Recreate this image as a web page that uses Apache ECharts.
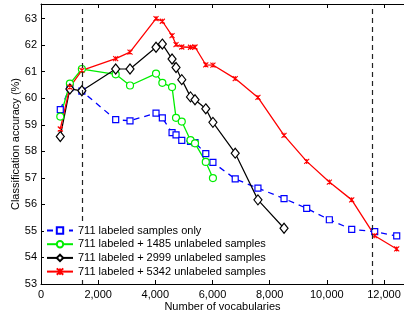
<!DOCTYPE html>
<html><head><meta charset="utf-8">
<script src="https://cdn.jsdelivr.net/npm/echarts@6/dist/echarts.min.js"></script>
<style>html,body{margin:0;padding:0;background:#fff}#c{width:404px;height:318px}</style>
</head><body><div id="c"></div>
<script>
var vocab = [675, 1010, 1430, 2613, 3114, 4024, 4245, 4585, 4724, 4925, 5230, 5388, 5765, 6015, 6795, 7590, 8503, 9296, 10088, 10871, 11675, 12445];
var labeledOnly = [59.57, 60.40, 60.27, 59.19, 59.15, 59.44, 59.26, 58.70, 58.62, 58.41, 58.37, 58.33, 57.91, 57.58, 56.96, 56.61, 56.22, 55.85, 55.42, 55.06, 54.97, 54.81];
var plus1485 = [59.31, 60.55, 61.10, 60.90, 60.48, 60.93, 60.58, 60.42, 59.26, 59.12, 58.42, 58.30, 57.60, 56.99];
var plus2999 = [58.56, 60.35, 60.28, 61.10, 61.10, 61.92, 62.04, 61.48, 61.16, 60.70, 60.05, 59.94, 59.60, 59.09, 57.93, 56.17, 55.10];
var plus5342 = [58.84, 60.42, 61.05, 61.49, 61.74, 63.00, 62.90, 62.36, 62.02, 61.93, 61.92, 61.93, 61.26, 61.25, 60.74, 60.03, 58.60, 57.62, 56.84, 56.17, 54.82, 54.32];
var seriesNames = ['711 labeled samples only', '711 labeled + 1485 unlabeled samples', '711 labeled + 2999 unlabeled samples', '711 labeled + 5342 unlabeled samples'];
var xTickValues = [0, 2000, 4000, 6000, 8000, 10000, 12000];
var refLines = [1435, 11585];

function pairs(ys){ return ys.map(function(y,i){ return [vocab[i], y]; }); }
var font = '"Liberation Sans", Arial, sans-serif';
var chart = echarts.init(document.getElementById('c'));
var star = 'path://M0,0L10,10M10,0L0,10M5,0L5,10';
chart.setOption({
  animation: false,
  backgroundColor: '#fff',
  grid: {left: 41, right: 0, top: 4, bottom: 34, containLabel: false, outerBoundsMode: 'none'},
  xAxis: [{
    type: 'value', min: 0, max: 12700, interval: 2000,
    name: 'Number of vocabularies', nameLocation: 'middle', nameGap: 17, nameMoveOverlap: false,
    nameTextStyle: {fontSize: 11, color: '#000', fontFamily: font},
    axisLine: {show: true, lineStyle: {color: '#000', width: 1}},
    axisTick: {show: true, inside: true, length: 4, lineStyle: {color: '#000'}},
    axisLabel: {fontSize: 11, color: '#000', fontFamily: font, margin: 5, showMaxLabel: false,
      formatter: function(v){ return xTickValues.indexOf(v) >= 0 ? v.toLocaleString('en-US') : ''; }},
    splitLine: {show: false}
  }, {
    type: 'value', min: 0, max: 12700, interval: 2000, position: 'top',
    axisLine: {show: true, lineStyle: {color: '#000', width: 1}},
    axisTick: {show: true, inside: true, length: 4, lineStyle: {color: '#000'}},
    axisLabel: {show: false}, splitLine: {show: false}
  }],
  yAxis: [{
    type: 'value', min: 53, max: 63.55, interval: 1,
    name: 'Classification accuracy (%)', nameLocation: 'middle', nameGap: 20, nameMoveOverlap: false,
    nameTextStyle: {fontSize: 11, color: '#000', fontFamily: font},
    axisLine: {show: true, lineStyle: {color: '#000', width: 1}},
    axisTick: {show: true, inside: true, length: 4, lineStyle: {color: '#000'}},
    axisLabel: {fontSize: 11, color: '#000', fontFamily: font, margin: 4, showMaxLabel: false},
    splitLine: {show: false}
  }],
  legend: {
    orient: 'vertical', left: 44, top: 222, itemWidth: 26, itemHeight: 8, itemGap: 0.7,
    padding: [2, 4, 2, 2], backgroundColor: '#fff', z: 10,
    textStyle: {fontSize: 11, color: '#000', fontFamily: font, lineHeight: 13},
    data: seriesNames
  },
  series: [{
    name: seriesNames[0], type: 'line', data: pairs(labeledOnly),
    symbol: 'rect', symbolSize: 6,
    itemStyle: {color: '#fff', borderColor: '#0000ff', borderWidth: 1.2},
    lineStyle: {color: '#0000ff', width: 1.3, type: [6, 5]},
    markLine: {silent: true, symbol: 'none', label: {show: false},
      lineStyle: {color: '#222', width: 1.2, type: [5, 4]},
      data: refLines.map(function(v){ return {xAxis: v}; })}
  }, {
    name: seriesNames[1], type: 'line', data: pairs(plus1485),
    symbol: 'circle', symbolSize: 7,
    itemStyle: {color: '#fff', borderColor: '#00ee00', borderWidth: 1.2},
    lineStyle: {color: '#00ee00', width: 1.3}
  }, {
    name: seriesNames[2], type: 'line', data: pairs(plus2999),
    symbol: 'diamond', symbolSize: [8, 10],
    itemStyle: {color: '#fff', borderColor: '#000', borderWidth: 1.2},
    lineStyle: {color: '#000', width: 1.2}
  }, {
    name: seriesNames[3], type: 'line', data: pairs(plus5342),
    symbol: star, symbolSize: 5,
    itemStyle: {color: '#ff0000', borderColor: '#ff0000', borderWidth: 1.1},
    lineStyle: {color: '#ff0000', width: 1.3}
  }]
});
</script></body></html>
